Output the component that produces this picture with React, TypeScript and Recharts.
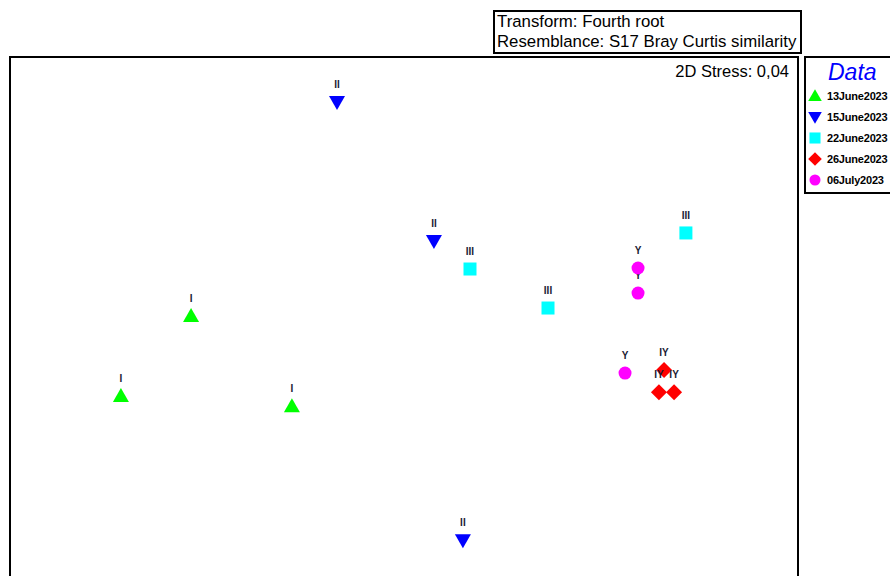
import React from 'react';
import { ScatterChart, Scatter, XAxis, YAxis, ReferenceArea } from 'recharts';

// nMDS coordinates (arbitrary units)
const groups = ['13June2023', '15June2023', '22June2023', '26June2023', '06July2023'];
const colors = ['#00ff00', '#0000ff', '#00ffff', '#ff0000', '#ff00ff'];
const kinds = ['up', 'down', 'square', 'diamond', 'circle'];

const juneThirteenX = [-1.081, -1.437, -0.569];
const juneThirteenY = [-0.015, -0.421, -0.472];
const juneFifteenX = [-0.34, 0.152, 0.299];
const juneFifteenY = [1.072, 0.366, -1.152];
const juneTwentyTwoX = [1.431, 0.335, 0.731];
const juneTwentyTwoY = [0.407, 0.224, 0.026];
const juneTwentySixX = [1.32, 1.294, 1.371];
const juneTwentySixY = [-0.289, -0.401, -0.401];
const julySixX = [1.188, 1.188, 1.122];
const julySixY = [0.102, 0.229, -0.304];

const groupLabels = ['I', 'II', 'III', 'IY', 'Y'];

const xs = [juneThirteenX, juneFifteenX, juneTwentyTwoX, juneTwentySixX, julySixX];
const ys = [juneThirteenY, juneFifteenY, juneTwentyTwoY, juneTwentySixY, julySixY];

const series = groups.map((name, g) =>
  xs[g].map((x, i) => ({ x, y: ys[g][i], label: groupLabels[g] }))
);

const FONT = '"Liberation Sans", Arial, sans-serif';

function marker(kind: string, cx: number, cy: number, color: string, s = 1) {
  switch (kind) {
    case 'up':
      return <polygon points={`${cx},${cy - 8 * s} ${cx - 8 * s},${cy + 6 * s} ${cx + 8 * s},${cy + 6 * s}`} fill={color} />;
    case 'down':
      return <polygon points={`${cx - 8 * s},${cy - 6 * s} ${cx + 8 * s},${cy - 6 * s} ${cx},${cy + 8 * s}`} fill={color} />;
    case 'square':
      return <rect x={cx - 6.5 * s} y={cy - 6.5 * s} width={13 * s} height={13 * s} fill={color} />;
    case 'diamond':
      return <polygon points={`${cx},${cy - 8 * s} ${cx + 8 * s},${cy} ${cx},${cy + 8 * s} ${cx - 8 * s},${cy}`} fill={color} />;
    default:
      return <circle cx={cx} cy={cy} r={6.5 * s} fill={color} />;
  }
}

const makeShape = (g: number) => (props: any) => {
  const { cx, cy, payload } = props;
  return (
    <g>
      <text x={cx} y={cy - 14} textAnchor="middle" fontSize={10} fontWeight="bold" fontFamily={FONT} fill="#1a1a33">
        {payload.label}
      </text>
      {marker(kinds[g], cx, cy, colors[g])}
    </g>
  );
};

function DataLegend() {
  return (
    <div
      style={{
        position: 'absolute', left: 804, top: 56, width: 100, height: 134, border: '2px solid #000',
        background: '#fff', fontFamily: FONT,
      }}
    >
      <div style={{ color: '#0000ff', fontStyle: 'italic', fontSize: 23, lineHeight: '26px', paddingLeft: 22, marginTop: 1 }}>Data</div>
      <svg width={100} height={110} style={{ display: 'block' }}>
        {groups.map((name, g) => (
          <g key={name}>
            {marker(kinds[g], 9, 11 + g * 21, colors[g], 0.85)}
            <text x={21} y={15 + g * 21} fontSize={11} fontWeight="bold" letterSpacing={-0.2} fill="#000" fontFamily={FONT}>
              {name}
            </text>
          </g>
        ))}
      </svg>
    </div>
  );
}

export default function App() {
  return (
    <div style={{ position: 'absolute', left: 0, top: 0, width: 890, height: 576, overflow: 'hidden', background: '#fff' }}>
      <div
        style={{
          position: 'absolute', left: 493, top: 10, width: 303, height: 40, border: '2px solid #000',
          fontFamily: FONT, fontSize: 16.8, lineHeight: '20px', paddingLeft: 2, boxSizing: 'content-box', color: '#000',
          whiteSpace: 'nowrap', overflow: 'hidden',
        }}
      >
        <div>Transform: Fourth root</div>
        <div>Resemblance: S17 Bray Curtis similarity</div>
      </div>
      <ScatterChart width={890} height={600} margin={{ top: 57, left: 10, right: 92, bottom: 11 }}>
        <XAxis type="number" dataKey="x" domain={[-2, 2]} hide allowDataOverflow />
        <YAxis type="number" dataKey="y" domain={[-1.4, 1.3]} hide allowDataOverflow />
        <ReferenceArea x1={-2} x2={2} y1={-1.4} y2={1.3} fill="none" stroke="#000" strokeWidth={2} strokeOpacity={1} />
        {series.map((data, g) => (
          <Scatter key={groups[g]} name={groups[g]} data={data} fill={colors[g]} shape={makeShape(g)} isAnimationActive={false} />
        ))}
      </ScatterChart>
      <DataLegend />
      <div style={{ position: 'absolute', right: 101, top: 62, fontFamily: FONT, fontSize: 16.5, color: '#000' }}>
        2D Stress: 0,04
      </div>
    </div>
  );
}
